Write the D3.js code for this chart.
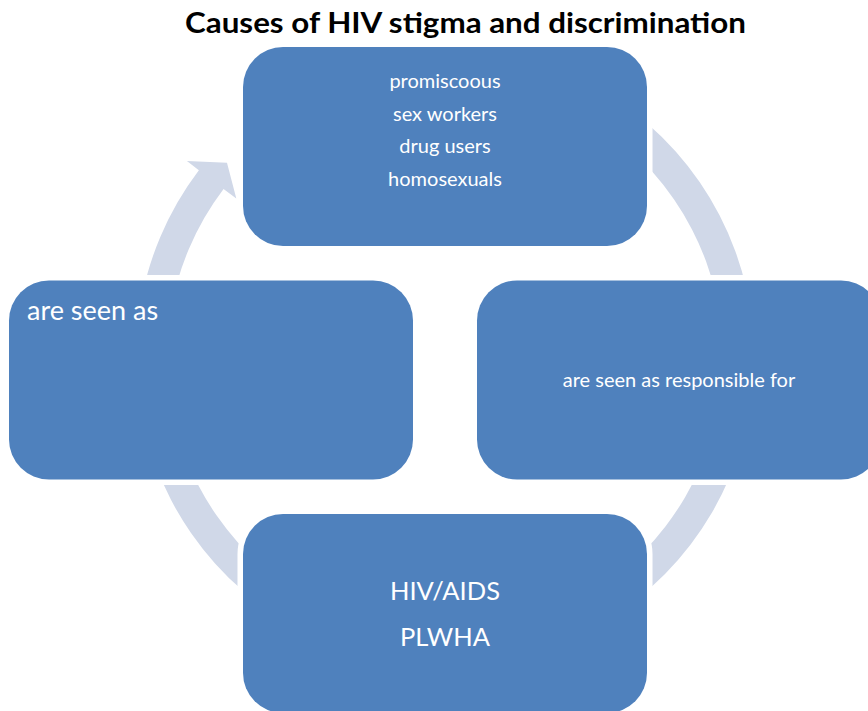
<!DOCTYPE html>
<html>
<head>
<meta charset="utf-8">
<script src="https://cdn.jsdelivr.net/npm/d3@7"></script>
<style>
  body { margin: 0; background: #fff; }
  svg { display: block; }
</style>
</head>
<body>
<div id="chart"></div>
<script>
// chart content
const title = 'Causes of HIV stigma and discrimination';
const nodeNames = ['top', 'right', 'bottom', 'left'];
const nodeLabels = [
  ['promiscoous', 'sex workers', 'drug users', 'homosexuals'],
  ['are seen as responsible for'],
  ['HIV/AIDS', 'PLWHA'],
  ['are seen as']
];

const width = 868, height = 711;
const boxW = 404, boxH = 199, boxR = 40;
const blue = '#4F81BD', ringColor = '#D0D8E8';
const font = 'Lato, Calibri, "Open Sans", sans-serif';

// unit positions of the four boxes around the cycle
const unit = {top: [0, -1], right: [1, 0], bottom: [0, 1], left: [-1, 0]};

const x = d3.scaleLinear().domain([-1, 1]).range([211, 679]);
const y = d3.scaleLinear().domain([-1, 1]).range([146.5, 613.5]);

// text layout per box (anchor, offsets from the box corner, size, line gap)
const textStyle = {
  top:    {anchor: 'middle', dx: boxW / 2, dy: 41, size: 20, gap: 32.6},
  right:  {anchor: 'middle', dx: boxW / 2, dy: 106, size: 20, gap: 0},
  bottom: {anchor: 'middle', dx: boxW / 2, dy: 86, size: 25.5, gap: 46},
  left:   {anchor: 'start',  dx: 18, dy: 39, size: 27, gap: 0}
};

const svg = d3.select('#chart')
  .append('svg')
  .attr('width', width)
  .attr('height', height);

// circular arrow behind the boxes
const ring = {cx: 445, cy: 357, outer: 309, inner: 278};
const deg = Math.PI / 180;
const start = -128 * deg,
  base = 217.2 * deg,
  tipA = 221.7 * deg;
const pt = (r, a) => [ring.cx + r * Math.cos(a), ring.cy + r * Math.sin(a)];

const p = d3.path();
p.moveTo(...pt(ring.outer, start));
p.arc(ring.cx, ring.cy, ring.outer, start, base, false);
p.lineTo(...pt(324, base));
p.lineTo(...pt(292, tipA));
p.lineTo(...pt(262, base));
p.lineTo(...pt(ring.inner, base));
p.arc(ring.cx, ring.cy, ring.inner, base, start, true);
p.closePath();

svg.append('path')
  .attr('d', p.toString())
  .attr('fill', ringColor);

// boxes
const nodes = nodeNames.map((n, i) => ({
  name: n,
  lines: nodeLabels[i],
  x0: x(unit[n][0]) - boxW / 2,
  y0: y(unit[n][1]) - boxH / 2
}));

const g = svg.selectAll('g.node')
  .data(nodes)
  .join('g')
  .attr('class', 'node')
  .attr('transform', d => `translate(${d.x0},${d.y0})`);

// white halo so the arrow stops short of each box
g.append('rect')
  .attr('width', boxW)
  .attr('height', boxH)
  .attr('rx', boxR)
  .attr('fill', 'none')
  .attr('stroke', '#fff')
  .attr('stroke-width', 11);

g.append('rect')
  .attr('width', boxW)
  .attr('height', boxH)
  .attr('rx', boxR)
  .attr('fill', blue);

g.each(function(d) {
  const s = textStyle[d.name];
  d3.select(this).selectAll('text')
    .data(d.lines)
    .join('text')
    .attr('x', s.dx)
    .attr('y', (t, i) => s.dy + i * s.gap)
    .attr('text-anchor', s.anchor)
    .attr('fill', '#fff')
    .style('font-family', font)
    .style('font-size', s.size + 'px')
    .text(t => t);
});

svg.append('text')
  .attr('x', 465.5)
  .attr('y', 33)
  .attr('text-anchor', 'middle')
  .attr('textLength', 561)
  .attr('lengthAdjust', 'spacingAndGlyphs')
  .style('font-family', font)
  .style('font-weight', 'bold')
  .style('font-size', '28px')
  .text(title);
</script>
</body>
</html>
